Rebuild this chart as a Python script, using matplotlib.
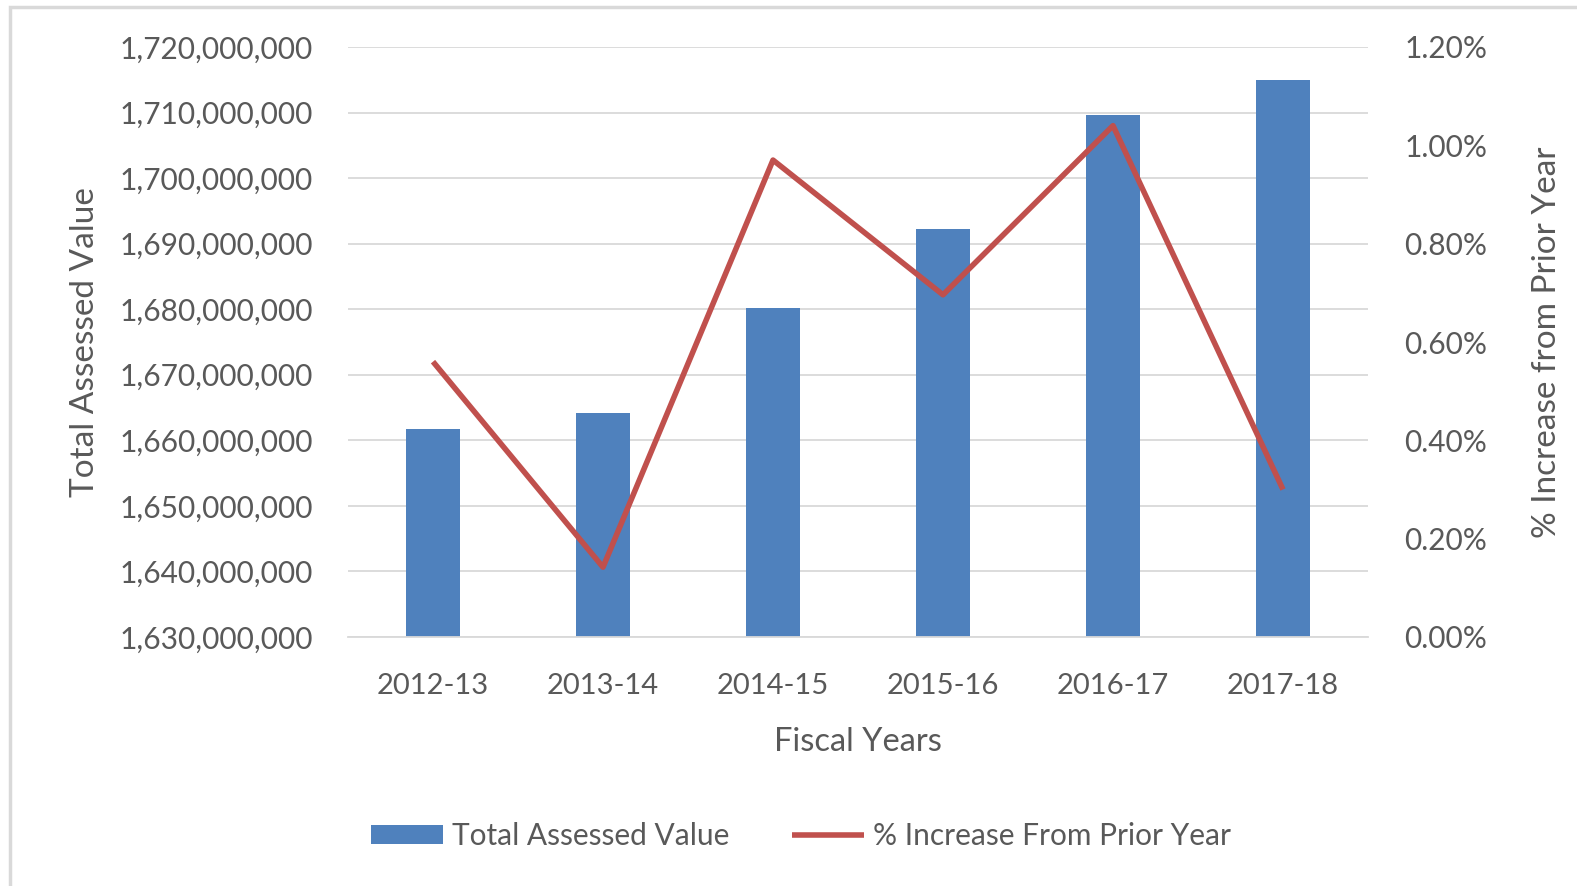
import numpy as np
import matplotlib
matplotlib.use("Agg")
from matplotlib import pyplot as plt
from matplotlib.patches import Rectangle
from matplotlib.ticker import FuncFormatter, MultipleLocator

years = ["2012-13", "2013-14", "2014-15", "2015-16", "2016-17", "2017-18"]
assessed = [1661.8e6, 1664.2e6, 1680.2e6, 1692.2e6, 1709.6e6, 1715.0e6]
pct_increase = [0.56, 0.142, 0.97, 0.696, 1.04, 0.30]

bar_color = "#4F81BD"
line_color = "#C0504D"
text_color = "#595959"
grid_color = "#D9D9D9"

plt.rcParams["font.family"] = ["Lato", "DejaVu Sans"]

fig = plt.figure(figsize=(15.77, 8.86), dpi=100)
ax = fig.add_axes([348 / 1577, 1 - 637 / 886, 1020 / 1577, 590 / 886])
ax2 = ax.twinx()

x = np.arange(len(years))
bars = ax.bar(x, assessed, width=0.32, color=bar_color, label="Total Assessed Value", zorder=2)
line, = ax2.plot(x, pct_increase, color=line_color, lw=4.0, solid_capstyle="butt",
                 label="% Increase From Prior Year", zorder=3)

ax.set_xlim(-0.5, len(years) - 0.5)
ax.set_ylim(1630e6, 1720e6)
ax.yaxis.set_major_locator(MultipleLocator(10e6))
ax.yaxis.set_major_formatter(FuncFormatter(lambda v, p: f"{v:,.0f}"))
ax2.set_ylim(0, 1.2)
ax2.yaxis.set_major_locator(MultipleLocator(0.2))
ax2.yaxis.set_major_formatter(FuncFormatter(lambda v, p: f"{v:.2f}%"))

ax.set_xticks(x)
ax.set_xticklabels(years)
ax.grid(axis="y", color=grid_color, lw=1.3, zorder=0)
ax.set_axisbelow(True)

for a in (ax, ax2):
    for s in a.spines.values():
        s.set_visible(False)
    a.tick_params(length=0, labelsize=21.5, colors=text_color)
ax.tick_params(axis="x", labelsize=21)
ax.spines["bottom"].set_visible(True)
ax.spines["bottom"].set_color(grid_color)
ax.spines["bottom"].set_linewidth(1.3)
ax.tick_params(axis="y", pad=25)
ax.tick_params(axis="x", pad=26)
ax2.tick_params(axis="y", pad=26)

ax.set_xlabel("Fiscal Years", fontsize=23.5, color=text_color, labelpad=20)
ax.set_ylabel("Total Assessed Value", fontsize=24, color=text_color, labelpad=14)
ax2.set_ylabel("% Increase from Prior Year", fontsize=24, color=text_color, labelpad=32)

fig.legend([bars, line], ["Total Assessed Value", "% Increase From Prior Year"],
           loc="center", bbox_to_anchor=(801 / 1577, 1 - 836 / 886), ncol=2,
           frameon=False, fontsize=21.5, labelcolor=text_color, handlelength=2.4,
           handleheight=0.6, handletextpad=0.3, columnspacing=2.1)

fig.patches.append(Rectangle((10 / 1577, -0.05), 1.1, 1 - 7 / 886 + 0.05,
                             transform=fig.transFigure, fill=False,
                             edgecolor=grid_color, lw=2.5))

fig.savefig("out.png", dpi=100)
